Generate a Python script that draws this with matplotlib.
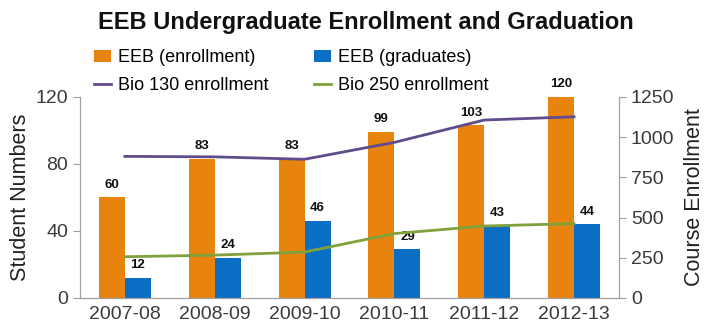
import matplotlib
matplotlib.use('Agg')
import matplotlib.pyplot as plt
import numpy as np

plt.rcParams['font.family'] = ['Liberation Sans', 'DejaVu Sans']

years = ['2007-08', '2008-09', '2009-10', '2010-11', '2011-12', '2012-13']
eeb_enroll = [60, 83, 83, 99, 103, 120]
eeb_grad = [12, 24, 46, 29, 43, 44]
bio130 = [880, 877, 862, 967, 1106, 1126]
bio250 = [256, 266, 285, 400, 447, 462]

orange = '#E8840E'
blue = '#0B6EC5'
purple = '#5F4C8C'
green = '#7FA23C'
grey = '#a0a0a0'

fig = plt.figure(figsize=(7.06, 3.34), dpi=100)
ax = fig.add_axes([0.1133, 0.108, 0.7634, 0.602])
ax2 = ax.twinx()

x = np.arange(len(years))
w = 0.29
b1 = ax.bar(x - w / 2, eeb_enroll, w, color=orange, label='EEB (enrollment)', zorder=2)
b2 = ax.bar(x + w / 2, eeb_grad, w, color=blue, label='EEB (graduates)', zorder=2)

for rect, v in zip(list(b1) + list(b2), eeb_enroll + eeb_grad):
    ax.text(rect.get_x() + rect.get_width() / 2, v + 4, str(v), ha='center', va='bottom',
            fontsize=9.5, fontweight='heavy', color='#111111')

l1, = ax2.plot(x, bio130, color=purple, lw=2, label='Bio 130 enrollment')
l2, = ax2.plot(x, bio250, color=green, lw=2, label='Bio 250 enrollment')

ax.set_xlim(-0.5, 5.5)
ax.set_ylim(0, 120)
ax.set_yticks([0, 40, 80, 120])
ax2.set_ylim(0, 1250)
ax2.set_yticks([0, 250, 500, 750, 1000, 1250])
ax.set_xticks(x)
ax.set_xticklabels(years)

for a in (ax, ax2):
    a.spines['top'].set_visible(False)
    for s in ('left', 'right', 'bottom'):
        a.spines[s].set_color(grey)
    a.tick_params(colors=grey, labelcolor='#3a3a3a', labelsize=14, length=5)
ax.tick_params(axis='x', length=0, pad=6)

ax.set_ylabel('Student Numbers', fontsize=15.5, color='#222222')
ax2.set_ylabel('Course Enrollment', fontsize=15.5, color='#222222')
ax.yaxis.set_label_coords(-0.091, 0.5)
ax2.yaxis.set_label_coords(1.121, 0.5)

fig.text(0.518, 0.934, 'EEB Undergraduate Enrollment and Graduation', ha='center', va='center',
         fontsize=17, fontweight='bold', color='#111111')

# row-wise order: enrollment/graduates on top, the two courses below
fig.legend(handles=[b1, l1, b2, l2], ncol=2, loc='center left', bbox_to_anchor=(0.133, 0.785),
           frameon=False, fontsize=13, handlelength=0.95, handletextpad=0.4,
           columnspacing=2.5, labelspacing=0.62, borderaxespad=0, borderpad=0)

fig.savefig('out.png', dpi=100)
